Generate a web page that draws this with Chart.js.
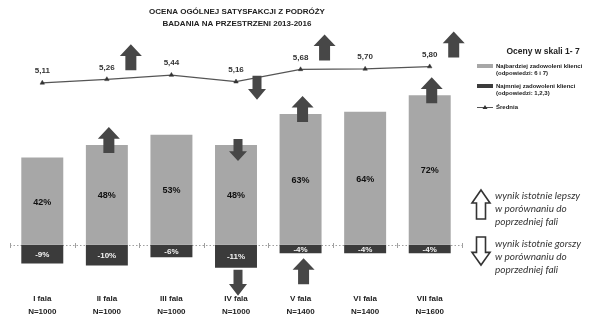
<!DOCTYPE html>
<html>
<head>
<meta charset="utf-8">
<script src="https://cdn.jsdelivr.net/npm/chart.js@4.4.1/dist/chart.umd.min.js"></script>
<style>
  html, body { margin: 0; padding: 0; background: #fff; }
  #wrap { width: 598px; height: 334px; }
</style>
</head>
<body>
<div id="wrap"><canvas id="chart"></canvas></div>
<script>
const WAVES = [
  ["I fala", "N=1000"],
  ["II fala", "N=1000"],
  ["III fala", "N=1000"],
  ["IV fala", "N=1000"],
  ["V fala", "N=1400"],
  ["VI fala", "N=1400"],
  ["VII fala", "N=1600"],
];
const MOST_SATISFIED = [42, 48, 53, 48, 63, 64, 72];
const LEAST_SATISFIED = [-9, -10, -6, -11, -4, -4, -4];
const MEAN_SCORE = [5.11, 5.26, 5.44, 5.16, 5.68, 5.70, 5.80];
// 1 = significantly better than previous wave, -1 = significantly worse
const MEAN_CHANGE = [0, 1, 0, -1, 1, 0, 1];
const MOST_CHANGE = [0, 1, 0, -1, 1, 0, 1];
const LEAST_CHANGE = [0, 0, 0, -1, 1, 0, 0];

const LIGHT = "#a7a7a7";
const DARK = "#3b3b3b";
const ARROW = "#474747";
const FONT = "'Liberation Sans', Arial, sans-serif";

function arrowPath(ctx, cx, top, w, h, dir) {
  const sw = w * 0.5;
  const hh = h * 0.45;
  ctx.beginPath();
  if (dir > 0) {
    ctx.moveTo(cx, top);
    ctx.lineTo(cx + w / 2, top + hh);
    ctx.lineTo(cx + sw / 2, top + hh);
    ctx.lineTo(cx + sw / 2, top + h);
    ctx.lineTo(cx - sw / 2, top + h);
    ctx.lineTo(cx - sw / 2, top + hh);
    ctx.lineTo(cx - w / 2, top + hh);
  } else {
    ctx.moveTo(cx - sw / 2, top);
    ctx.lineTo(cx + sw / 2, top);
    ctx.lineTo(cx + sw / 2, top + h - hh);
    ctx.lineTo(cx + w / 2, top + h - hh);
    ctx.lineTo(cx, top + h);
    ctx.lineTo(cx - w / 2, top + h - hh);
    ctx.lineTo(cx - sw / 2, top + h - hh);
  }
  ctx.closePath();
}

function fillArrow(ctx, cx, top, w, h, dir) {
  arrowPath(ctx, cx, top, w, h, dir);
  ctx.fillStyle = ARROW;
  ctx.fill();
}

const decorations = {
  id: "decorations",
  beforeDatasetsDraw(chart) {
    const { ctx, chartArea } = chart;
    const y0 = Math.round(chart.scales.y.getPixelForValue(0));
    ctx.save();
    ctx.strokeStyle = "#a0a0a0";
    ctx.lineWidth = 1;
    ctx.setLineDash([1.5, 2]);
    ctx.beginPath();
    ctx.moveTo(chartArea.left, y0 + 0.5);
    ctx.lineTo(chartArea.right, y0 + 0.5);
    ctx.stroke();
    ctx.setLineDash([]);
    const step = (chartArea.right - chartArea.left) / WAVES.length;
    for (let i = 0; i <= WAVES.length; i++) {
      const x = Math.round(chartArea.left + i * step) + 0.5;
      ctx.beginPath();
      ctx.moveTo(x, y0 - 2);
      ctx.lineTo(x, y0 + 3);
      ctx.stroke();
    }
    ctx.restore();
  },
  afterDatasetsDraw(chart) {
    const { ctx } = chart;
    const mean = chart.getDatasetMeta(0).data;
    const most = chart.getDatasetMeta(1).data;
    const least = chart.getDatasetMeta(2).data;
    ctx.save();
    ctx.textAlign = "center";
    ctx.textBaseline = "middle";

    most.forEach((el, i) => {
      ctx.fillStyle = "#111";
      ctx.font = "bold 9px " + FONT;
      ctx.fillText(MOST_SATISFIED[i] + "%", el.x, (el.y + el.base) / 2 + 1);
    });
    least.forEach((el, i) => {
      ctx.fillStyle = "#f4f4f4";
      ctx.font = "bold 8px " + FONT;
      ctx.fillText(LEAST_SATISFIED[i] + "%", el.x, (el.y + el.base) / 2 + 1);
    });
    mean.forEach((el, i) => {
      ctx.fillStyle = "#333";
      ctx.font = "bold 8px " + FONT;
      ctx.fillText(MEAN_SCORE[i].toFixed(2).replace(".", ","), el.x, el.y - 12);
    });

    mean.forEach((el, i) => {
      if (MEAN_CHANGE[i] > 0) fillArrow(ctx, el.x + 24, el.y - 35, 22, 26, 1);
      if (MEAN_CHANGE[i] < 0) fillArrow(ctx, el.x + 21, el.y - 6, 18, 24, -1);
    });
    most.forEach((el, i) => {
      if (MOST_CHANGE[i] > 0) fillArrow(ctx, el.x + 2, el.y - 18, 22, 26, 1);
      if (MOST_CHANGE[i] < 0) fillArrow(ctx, el.x + 2, el.y - 6, 18, 22, -1);
    });
    least.forEach((el, i) => {
      if (LEAST_CHANGE[i] > 0) fillArrow(ctx, el.x + 3, el.y + 5, 22, 26, 1);
      if (LEAST_CHANGE[i] < 0) fillArrow(ctx, el.x + 2, el.y + 2, 18, 26, -1);
    });
    ctx.restore();
  },
  afterDraw(chart) {
    const { ctx } = chart;
    ctx.save();
    ctx.fillStyle = "#222";
    ctx.textAlign = "center";
    ctx.textBaseline = "middle";
    ctx.font = "bold 8px " + FONT;
    ctx.fillText("OCENA OGÓLNEJ SATYSFAKCJI Z PODRÓŻY", 237, 12);
    ctx.fillText("BADANIA NA PRZESTRZENI 2013-2016", 237, 24);
    ctx.font = "bold 8.5px " + FONT;
    ctx.fillText("Oceny w skali 1- 7", 543, 52);

    // series legend
    ctx.textAlign = "left";
    ctx.font = "bold 6px " + FONT;
    ctx.fillStyle = LIGHT;
    ctx.fillRect(477, 64, 16, 4);
    ctx.fillStyle = DARK;
    ctx.fillRect(477, 84, 16, 4);
    ctx.fillStyle = "#222";
    ctx.fillText("Najbardziej zadowoleni klienci", 496, 66);
    ctx.fillText("(odpowiedzi: 6 i 7)", 496, 73);
    ctx.fillText("Najmniej zadowoleni klienci", 496, 86);
    ctx.fillText("(odpowiedzi: 1,2,3)", 496, 93);
    ctx.fillText("Średnia", 496, 107);
    ctx.strokeStyle = "#555";
    ctx.lineWidth = 1;
    ctx.beginPath();
    ctx.moveTo(477, 107.5);
    ctx.lineTo(493, 107.5);
    ctx.stroke();
    ctx.fillStyle = "#333";
    ctx.beginPath();
    ctx.moveTo(485, 105);
    ctx.lineTo(487.5, 109);
    ctx.lineTo(482.5, 109);
    ctx.closePath();
    ctx.fill();

    // significance legend
    ctx.strokeStyle = "#333";
    ctx.lineWidth = 1.6;
    ctx.fillStyle = "#fff";
    arrowPath(ctx, 481, 190, 18, 29, 1);
    ctx.fill();
    ctx.stroke();
    arrowPath(ctx, 481, 237, 18, 28, -1);
    ctx.fill();
    ctx.stroke();
    ctx.fillStyle = "#333";
    ctx.font = "italic 10px Lato, sans-serif";
    ["wynik istotnie lepszy", "w porównaniu do", "poprzedniej fali"].forEach((t, k) => {
      ctx.fillText(t, 495, 196 + k * 13);
    });
    ["wynik istotnie gorszy", "w porównaniu do", "poprzedniej fali"].forEach((t, k) => {
      ctx.fillText(t, 495, 244 + k * 13);
    });
    ctx.restore();
  },
};

new Chart(document.getElementById("chart"), {
  type: "bar",
  data: {
    labels: WAVES,
    datasets: [
      {
        type: "line",
        label: "Średnia",
        data: MEAN_SCORE,
        yAxisID: "y2",
        borderColor: "#555",
        borderWidth: 1.3,
        pointStyle: "triangle",
        pointRadius: 2.6,
        pointBackgroundColor: "#333",
        pointBorderColor: "#333",
        pointBorderWidth: 0.5,
        tension: 0,
        order: 0,
      },
      {
        label: "Najbardziej zadowoleni klienci (odpowiedzi: 6 i 7)",
        data: MOST_SATISFIED,
        backgroundColor: LIGHT,
        stack: "s",
        barPercentage: 0.65,
        categoryPercentage: 1,
        order: 1,
      },
      {
        label: "Najmniej zadowoleni klienci (odpowiedzi: 1,2,3)",
        data: LEAST_SATISFIED,
        backgroundColor: DARK,
        stack: "s",
        barPercentage: 0.65,
        categoryPercentage: 1,
        order: 1,
      },
    ],
  },
  options: {
    responsive: true,
    maintainAspectRatio: false,
    animation: false,
    devicePixelRatio: 1,
    layout: { padding: { left: 10, right: 136, top: 37, bottom: 10 } },
    plugins: {
      legend: { display: false },
      tooltip: { enabled: false },
      title: { display: false },
    },
    scales: {
      x: {
        stacked: true,
        grid: { display: false, drawTicks: false },
        border: { display: false },
        ticks: {
          padding: 6,
          color: "#222",
          font: { family: FONT, size: 8, weight: "bold", lineHeight: 1.6 },
        },
      },
      y: { stacked: true, display: false, min: -20, max: 100 },
      y2: { display: false, min: -3.5, max: 7.05 },
    },
  },
  plugins: [decorations],
});
</script>
</body>
</html>
